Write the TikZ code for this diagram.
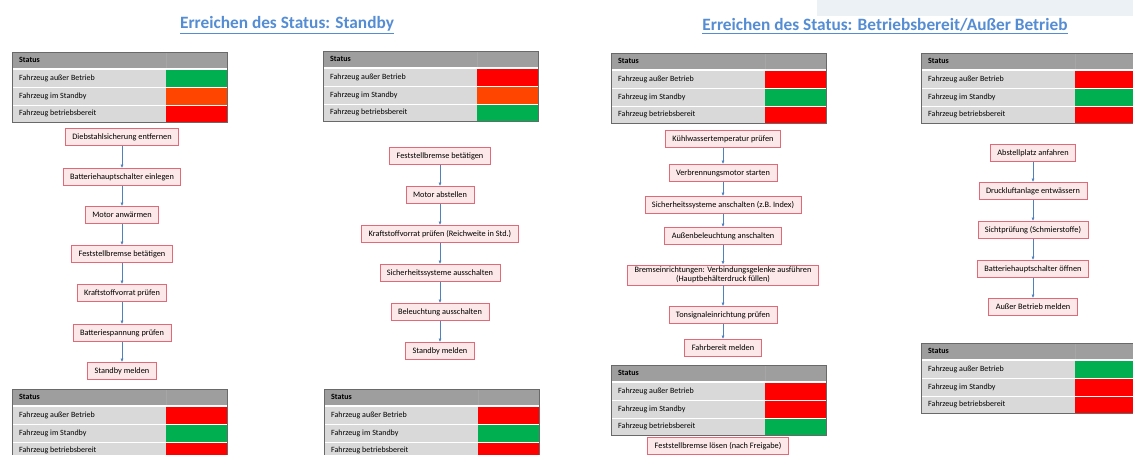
\documentclass[tikz,border=0pt]{standalone}
\usepackage{fontspec}
\setmainfont{Carlito}
\usetikzlibrary{positioning,arrows.meta}
\definecolor{boxred}{RGB}{226,105,120}
\definecolor{boxpink}{RGB}{252,232,232}
\definecolor{flowblue}{RGB}{79,129,189}
\definecolor{titleblue}{RGB}{84,141,212}
\definecolor{hdrgray}{RGB}{158,158,158}
\definecolor{rowgray}{RGB}{217,217,217}
\definecolor{edgegray}{RGB}{105,105,105}
\definecolor{okgreen}{RGB}{0,176,80}
\definecolor{stopred}{RGB}{255,0,0}
\definecolor{waitorange}{RGB}{255,69,0}
\definecolor{bannergray}{RGB}{236,241,245}

\tikzset{
  stepbox/.style={draw=boxred,fill=boxpink,line width=0.8pt,
    font=\fontsize{8.3}{9}\selectfont,minimum height=17pt,
    inner xsep=7pt,inner ysep=2pt,align=center},
  flow/.style={draw=flowblue,line width=0.6pt,-{Latex[length=3.5pt,width=3pt]}},
  celltext/.style={font=\fontsize{8}{9}\selectfont,anchor=west,inner sep=0pt},
  pagetitle/.style={text=titleblue,font=\fontsize{17.3}{19}\selectfont\bfseries}
}

\newcommand{\statustab}[5]{%
  \begin{scope}[shift={#2}]
    \fill[rowgray] (0,0) rectangle (215,70);
    \fill[hdrgray] (0,0) rectangle (215,16);
    \fill[white] (0,16) rectangle (215,18);
    \fill[#3] (154,18) rectangle (215,35);
    \fill[#4] (154,35.8) rectangle (215,52.5);
    \fill[#5] (154,53.3) rectangle (215,70);
    \draw[white,line width=0.7pt] (0,35.4) -- (215,35.4) (0,52.9) -- (215,52.9);
    \draw[gray!70!white] (154,0) -- (154,16);
    \draw[edgegray,line width=1pt] (0,0) rectangle (215,70);
    \node[celltext,font=\fontsize{8}{9}\selectfont\bfseries] (#1-h) at (7,8) {Status};
    \node[celltext] (#1-a) at (7,26.5) {Fahrzeug außer Betrieb};
    \node[celltext] (#1-b) at (7,44) {Fahrzeug im Standby};
    \node[celltext] (#1-c) at (7,61.5) {Fahrzeug betriebsbereit};
  \end{scope}}

\begin{document}
\begin{tikzpicture}[x=1pt,y=-1pt]
  \clip (0,0) rectangle (1133,455);
  \fill[white] (0,0) rectangle (1133,455);
  \fill[bannergray] (817,0) rectangle (1133,16);

  \node[pagetitle] (titleSb) at (287,25) {\underline{Erreichen des Status: Standby}};
  \node[pagetitle] (titleBb) at (885,26) {\underline{Erreichen des Status: Betriebsbereit/Außer Betrieb}};

  \statustab{tabA}{(12,52)}{okgreen}{waitorange}{stopred}
  \statustab{tabAe}{(12,389)}{stopred}{okgreen}{stopred}
  \statustab{tabB}{(323,51)}{stopred}{waitorange}{okgreen}
  \statustab{tabBe}{(324,389)}{stopred}{okgreen}{stopred}
  \statustab{tabC}{(611,53)}{stopred}{okgreen}{stopred}
  \statustab{tabCe}{(611,365)}{stopred}{stopred}{okgreen}
  \statustab{tabD}{(921,53)}{stopred}{okgreen}{stopred}
  \statustab{tabDe}{(921,343)}{okgreen}{stopred}{stopred}

  \node[stepbox] (sbA1) at (122,137) {Diebstahlsicherung entfernen};
  \node[stepbox] (sbA2) at (122,177) {Batteriehauptschalter einlegen};
  \node[stepbox] (sbA3) at (122,215) {Motor anwärmen};
  \node[stepbox] (sbA4) at (122,254) {Feststellbremse betätigen};
  \node[stepbox] (sbA5) at (122,293) {Kraftstoffvorrat prüfen};
  \node[stepbox] (sbA6) at (122,333) {Batteriespannung prüfen};
  \node[stepbox] (sbA7) at (122,371) {Standby melden};

  \node[stepbox] (sbB1) at (440,156) {Feststellbremse betätigen};
  \node[stepbox] (sbB2) at (440,195) {Motor abstellen};
  \node[stepbox] (sbB3) at (440,234) {Kraftstoffvorrat prüfen (Reichweite in Std.)};
  \node[stepbox] (sbB4) at (440,273) {Sicherheitssysteme ausschalten};
  \node[stepbox] (sbB5) at (440,312) {Beleuchtung ausschalten};
  \node[stepbox] (sbB6) at (440,351) {Standby melden};

  \node[stepbox] (bbA1) at (723,139) {Kühlwassertemperatur prüfen};
  \node[stepbox] (bbA2) at (723,173) {Verbrennungsmotor starten};
  \node[stepbox] (bbA3) at (723,205) {Sicherheitssysteme anschalten (z.B. Index)};
  \node[stepbox] (bbA4) at (723,236) {Außenbeleuchtung anschalten};
  \node[stepbox] (bbA5) at (723,275) {Bremseinrichtungen: Verbindungsgelenke ausführen\\(Hauptbehälterdruck füllen)};
  \node[stepbox] (bbA6) at (723,315) {Tonsignaleinrichtung prüfen};
  \node[stepbox] (bbA7) at (723,348) {Fahrbereit melden};
  \node[stepbox] (bbA8) at (718,446) {Feststellbremse lösen (nach Freigabe)};

  \node[stepbox] (abA1) at (1033,153) {Abstellplatz anfahren};
  \node[stepbox] (abA2) at (1033,191) {Druckluftanlage entwässern};
  \node[stepbox] (abA3) at (1033,230) {Sichtprüfung (Schmierstoffe)};
  \node[stepbox] (abA4) at (1033,269) {Batteriehauptschalter öffnen};
  \node[stepbox] (abA5) at (1033,307) {Außer Betrieb melden};

  \draw[flow] (sbA1) -- (sbA2);
  \draw[flow] (sbA2) -- (sbA3);
  \draw[flow] (sbA3) -- (sbA4);
  \draw[flow] (sbA4) -- (sbA5);
  \draw[flow] (sbA5) -- (sbA6);
  \draw[flow] (sbA6) -- (sbA7);

  \draw[flow] (sbB1) -- (sbB2);
  \draw[flow] (sbB2) -- (sbB3);
  \draw[flow] (sbB3) -- (sbB4);
  \draw[flow] (sbB4) -- (sbB5);
  \draw[flow] (sbB5) -- (sbB6);

  \draw[flow] (bbA1) -- (bbA2);
  \draw[flow] (bbA2) -- (bbA3);
  \draw[flow] (bbA3) -- (bbA4);
  \draw[flow] (bbA4) -- (bbA5);
  \draw[flow] (bbA5) -- (bbA6);
  \draw[flow] (bbA6) -- (bbA7);

  \draw[flow] (abA1) -- (abA2);
  \draw[flow] (abA2) -- (abA3);
  \draw[flow] (abA3) -- (abA4);
  \draw[flow] (abA4) -- (abA5);
\end{tikzpicture}
\end{document}
